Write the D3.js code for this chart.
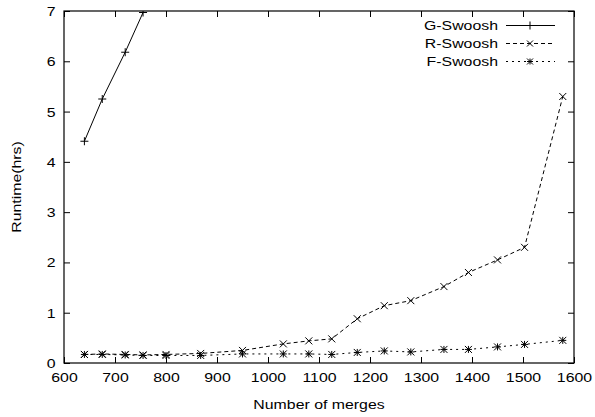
<!DOCTYPE html>
<html>
<head>
<meta charset="utf-8">
<script src="https://cdn.jsdelivr.net/npm/d3@7"></script>
<style>
  body { margin: 0; background: #fff; }
  svg { display: block; }
  text { font-family: "Liberation Sans", Arial, sans-serif; font-size: 13px; fill: #000; }
</style>
</head>
<body>
<svg></svg>
<script>
const width = 595;
const height = 417;
const svg = d3.select("svg").attr("width", width).attr("height", height);

// data
const gMerges = [640, 675, 720, 755];
const gRuntime = [4.41, 5.25, 6.18, 6.97];

const merges = [640, 675, 720, 755, 800, 868, 950, 1030, 1080, 1125, 1175, 1228, 1280, 1345, 1393, 1450, 1503, 1578];
const rRuntime = [0.17, 0.18, 0.17, 0.16, 0.17, 0.19, 0.25, 0.38, 0.44, 0.48, 0.88, 1.14, 1.24, 1.52, 1.80, 2.05, 2.30, 5.30];
const fRuntime = [0.17, 0.17, 0.16, 0.15, 0.15, 0.15, 0.18, 0.18, 0.18, 0.17, 0.21, 0.24, 0.22, 0.27, 0.27, 0.32, 0.37, 0.45];

const xTicks = [600, 700, 800, 900, 1000, 1100, 1200, 1300, 1400, 1500, 1600];
const yTicks = [0, 1, 2, 3, 4, 5, 6, 7];

const seriesNames = ["G-Swoosh", "R-Swoosh", "F-Swoosh"];

const margin = { left: 64, right: 21, top: 11, bottom: 54 };
const x = d3.scaleLinear().domain([600, 1600]).range([margin.left, width - margin.right]);
const y = d3.scaleLinear().domain([0, 7]).range([height - margin.bottom, margin.top]);

const stretch = "scale(1.22,1)";
const tickLen = 6;

// clip for the lines
svg.append("clipPath").attr("id", "plot")
  .append("rect")
  .attr("x", x(600)).attr("y", y(7))
  .attr("width", x(1600) - x(600)).attr("height", y(0) - y(7));

// axes, ticks inward on all four sides
const axBottom = svg.append("g")
  .attr("transform", `translate(0,${y(0)})`)
  .call(d3.axisBottom(x).tickValues(xTicks).tickFormat(d3.format("d")).tickSize(-tickLen).tickPadding(14));
const axTop = svg.append("g")
  .attr("transform", `translate(0,${y(7)})`)
  .call(d3.axisTop(x).tickValues(xTicks).tickSize(-tickLen).tickFormat(""));
const axLeft = svg.append("g")
  .attr("transform", `translate(${x(600)},0)`)
  .call(d3.axisLeft(y).tickValues(yTicks).tickFormat(d3.format("d")).tickSize(-tickLen).tickPadding(0));
const axRight = svg.append("g")
  .attr("transform", `translate(${x(1600)},0)`)
  .call(d3.axisRight(y).tickValues(yTicks).tickSize(-tickLen).tickFormat(""));

[axBottom, axTop, axLeft, axRight].forEach((g) => {
  g.select(".domain").remove();
  g.selectAll("line").attr("stroke", "#000").attr("stroke-width", 1);
  g.selectAll("text").attr("font-size", null).attr("font-family", null);
});
axBottom.selectAll("text").attr("transform", stretch).attr("dy", "0.35em");
axLeft.selectAll("text").attr("x", -7).attr("dy", "0.35em").attr("transform", stretch);

// frame
svg.append("rect")
  .attr("x", x(600)).attr("y", y(7))
  .attr("width", x(1600) - x(600)).attr("height", y(0) - y(7))
  .attr("fill", "none").attr("stroke", "#000").attr("stroke-width", 1.2);

// axis titles
svg.append("text")
  .attr("transform", `translate(${(x(600) + x(1600)) / 2},409) ${stretch}`)
  .attr("text-anchor", "middle")
  .text("Number of merges");
svg.append("text")
  .attr("transform", `translate(21,${(y(0) + y(7)) / 2}) rotate(-90) ${stretch}`)
  .attr("text-anchor", "middle")
  .text("Runtime(hrs)");

// markers
const markerPath = (type, s) => {
  const p = d3.path();
  if (type === "plus" || type === "star") {
    p.moveTo(-s, 0); p.lineTo(s, 0);
    p.moveTo(0, -s); p.lineTo(0, s);
  }
  if (type === "cross" || type === "star") {
    p.moveTo(-s, -s); p.lineTo(s, s);
    p.moveTo(-s, s); p.lineTo(s, -s);
  }
  return p.toString();
};

const series = [
  { name: seriesNames[0], xs: gMerges, ys: gRuntime, dash: null, marker: "plus" },
  { name: seriesNames[1], xs: merges, ys: rRuntime, dash: "4,3", marker: "cross" },
  { name: seriesNames[2], xs: merges, ys: fRuntime, dash: "2,4", marker: "star" },
];

const line = d3.line().x((d) => x(d[0])).y((d) => y(d[1]));

series.forEach((s, i) => {
  const pts = s.xs.map((v, j) => [v, s.ys[j]]);
  const g = svg.append("g").attr("clip-path", "url(#plot)");
  g.append("path")
    .attr("d", line(pts))
    .attr("fill", "none")
    .attr("stroke", "#000")
    .attr("stroke-width", 1)
    .attr("stroke-dasharray", s.dash);
  g.selectAll("path.m")
    .data(pts)
    .enter()
    .append("path")
    .attr("class", "m")
    .attr("transform", (d) => `translate(${x(d[0])},${y(d[1])})`)
    .attr("d", markerPath(s.marker, s.marker === "plus" ? 4 : 3.5))
    .attr("stroke", "#000")
    .attr("stroke-width", 1);

  // legend row
  const ly = 25.5 + i * 18;
  svg.append("text")
    .attr("transform", `translate(498,${ly}) ${stretch}`)
    .attr("text-anchor", "end")
    .attr("dy", "0.35em")
    .text(s.name);
  svg.append("line")
    .attr("x1", 506).attr("x2", 555).attr("y1", ly).attr("y2", ly)
    .attr("stroke", "#000").attr("stroke-width", 1)
    .attr("stroke-dasharray", s.dash);
  svg.append("path")
    .attr("transform", `translate(530,${ly})`)
    .attr("d", markerPath(s.marker, s.marker === "plus" ? 4 : 3))
    .attr("stroke", "#000").attr("stroke-width", 1);
});
</script>
</body>
</html>
